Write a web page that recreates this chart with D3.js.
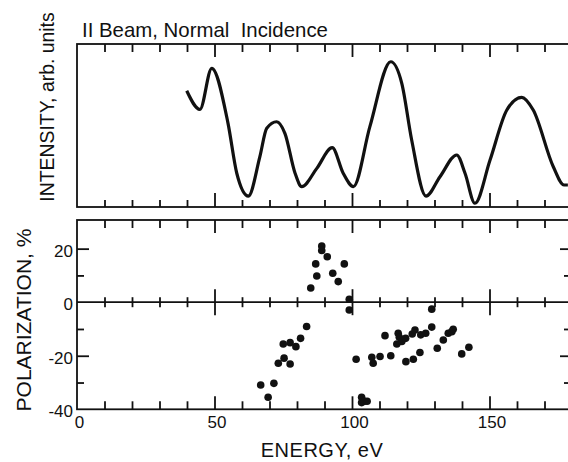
<!DOCTYPE html>
<html>
<head>
<meta charset="utf-8">
<script src="https://cdn.jsdelivr.net/npm/d3@7/dist/d3.min.js"></script>
<style>
  body { margin: 0; background: #fff; }
  text { font-family: "Liberation Sans", Arial, sans-serif; fill: #111; }
</style>
</head>
<body>
<div id="chart"></div>
<script>
////////////////////////////////////////////////////////////////////////
// data

// upper panel: intensity curve (arb. units, 0 = frame bottom, 100 = frame top)
let curveEnergy = [39.9, 44.7, 49.0, 54.9, 58.1, 62.3, 66.5, 69.0, 72.6, 75.6,
                   79.3, 81.7, 87.2, 92.8, 96.8, 100.5, 106.5, 114.1, 118.1, 121.7,
                   126.9, 132.0, 138.1, 141.1, 144.7, 150.2, 156.3, 161.7, 165.9, 173.2,
                   177.1, 178.5];
let curveIntensity = [71.3, 59.9, 85.1, 51.5, 20.7, 6.7, 30.9, 48.3, 52.3, 45.2,
                      20.7, 12.5, 23.7, 36.4, 20.7, 12.5, 49.3, 89.1, 75.9, 41.1,
                      6.7, 18.6, 31.9, 20.7, 2.3, 28.8, 59.5, 67.3, 59.5, 24.7,
                      13.5, 13.5];

// lower panel: polarization points
let polEnergy = [89.0, 89.0, 91.0, 86.8, 97.2, 87.2, 93.0, 95.0, 85.0, 99.0, 99.0,
                 83.5, 81.3, 79.6, 75.0, 77.5, 75.3, 73.2, 77.5, 71.6, 66.8, 69.5,
                 101.5, 103.5, 103.5, 104.5, 105.5,
                 112.0, 107.2, 107.7, 110.2, 114.1, 116.8, 117.2, 116.3, 118.1, 119.5,
                 119.6, 122.3, 121.9, 122.9, 124.7, 125.0, 126.8, 129.0, 129.0, 131.0,
                 133.2, 135.0, 136.3, 136.8, 139.9, 142.5];
let polValue = [21.0, 19.3, 17.0, 14.3, 14.3, 9.8, 10.8, 7.7, 5.3, 1.1, -2.9,
                -9.1, -13.5, -16.6, -15.6, -15.1, -20.9, -22.8, -23.1, -30.3, -30.9, -35.5,
                -21.3, -35.5, -37.5, -37.0, -37.0,
                -12.5, -20.6, -22.8, -20.3, -20.0, -11.6, -13.1, -15.6, -14.7, -13.5,
                -22.2, -21.3, -11.9, -10.4, -18.8, -12.2, -11.6, -9.3, -2.6, -17.2,
                -14.1, -11.6, -11.0, -10.1, -19.3, -16.8];

let energyLabels = [0, 50, 100, 150];
let polLabels = [20, 0, -20, -40];

////////////////////////////////////////////////////////////////////////

let width = 568;
let height = 462;

let svg = d3.select("#chart").append("svg")
  .attr("width", width).attr("height", height);

let left = 77, right = 572;
let topY0 = 44, topY1 = 207;
let botY0 = 220, botY1 = 409.3;

let xScale = d3.scaleLinear().domain([0, 180]).range([left, right]);
let yTop = d3.scaleLinear().domain([0, 100]).range([topY1, topY0]);
let yPol = d3.scaleLinear().domain([-40, 30.7]).range([botY1, botY0]);

let minorE = d3.range(10, 180, 10).filter(d => d % 50 !== 0);
let majorE = [50, 100, 150];
let minorP = [10, -10, -30];
let majorP = [20, -20];

// helper: draw one row of ticks with a d3 axis, no domain path, no labels
function tickRow(axisFn, scale, values, size, tx, ty) {
  let g = svg.append("g")
    .attr("transform", "translate(" + tx + "," + ty + ")")
    .call(axisFn(scale).tickValues(values).tickSize(size).tickFormat(""));
  g.select(".domain").remove();
  g.selectAll("line").attr("stroke", "#111").attr("stroke-width", 1.8);
  return g;
}

// frames
svg.append("rect")
  .attr("x", left).attr("y", topY0)
  .attr("width", right - left).attr("height", topY1 - topY0)
  .attr("fill", "none").attr("stroke", "#111").attr("stroke-width", 1.8);
svg.append("rect")
  .attr("x", left).attr("y", botY0)
  .attr("width", right - left).attr("height", botY1 - botY0)
  .attr("fill", "none").attr("stroke", "#111").attr("stroke-width", 1.8);
svg.append("line")
  .attr("x1", left).attr("x2", right)
  .attr("y1", yPol(0)).attr("y2", yPol(0))
  .attr("stroke", "#111").attr("stroke-width", 1.8);

// energy ticks on every horizontal frame line
tickRow(d3.axisBottom, xScale, minorE, 8, 0, topY0);
tickRow(d3.axisBottom, xScale, majorE, 13, 0, topY0);
tickRow(d3.axisTop, xScale, minorE, 7, 0, topY1);
tickRow(d3.axisTop, xScale, majorE, 14, 0, topY1);
tickRow(d3.axisBottom, xScale, minorE, 8, 0, botY0);
tickRow(d3.axisBottom, xScale, majorE, 13, 0, botY0);
tickRow(d3.axisTop, xScale, minorE, 5, 0, yPol(0));
tickRow(d3.axisBottom, xScale, minorE, 5, 0, yPol(0));
tickRow(d3.axisTop, xScale, majorE, 13, 0, yPol(0));
tickRow(d3.axisBottom, xScale, majorE, 13, 0, yPol(0));
tickRow(d3.axisTop, xScale, minorE, 8, 0, botY1);
tickRow(d3.axisTop, xScale, majorE, 13, 0, botY1);

// polarization ticks, left and right
tickRow(d3.axisRight, yPol, minorP, 7, left, 0);
tickRow(d3.axisRight, yPol, majorP, 12, left, 0);
tickRow(d3.axisLeft, yPol, minorP, 8, right, 0);
tickRow(d3.axisLeft, yPol, majorP, 12, right, 0);

// tick labels
let yLab = svg.append("g")
  .attr("transform", "translate(" + (left - 4) + ",2)")
  .call(d3.axisLeft(yPol).tickValues(polLabels).tickSize(0).tickPadding(0)
        .tickFormat(d => d < 0 ? "-" + Math.abs(d) : d));
yLab.select(".domain").remove();
yLab.selectAll("text").attr("font-size", 17)
  .attr("font-family", "Liberation Sans, Arial, sans-serif").attr("fill", "#111");

let xLab = svg.append("g")
  .attr("transform", "translate(2," + botY1 + ")")
  .call(d3.axisBottom(xScale).tickValues(energyLabels).tickSize(0).tickPadding(7));
xLab.select(".domain").remove();
xLab.selectAll("text").attr("font-size", 17)
  .attr("font-family", "Liberation Sans, Arial, sans-serif").attr("fill", "#111");

// intensity curve
let line = d3.line()
  .x((d, i) => xScale(curveEnergy[i]))
  .y((d, i) => yTop(curveIntensity[i]))
  .curve(d3.curveMonotoneX);

svg.append("path")
  .datum(curveEnergy)
  .attr("d", line)
  .attr("fill", "none")
  .attr("stroke", "#111")
  .attr("stroke-width", 3.2)
  .attr("stroke-linejoin", "round");

// polarization dots
svg.append("g")
  .selectAll("circle")
  .data(polEnergy).enter()
  .append("circle")
  .attr("cx", (d, i) => xScale(d))
  .attr("cy", (d, i) => yPol(polValue[i]))
  .attr("r", 3.8)
  .attr("fill", "#111");

// titles
svg.append("text")
  .attr("x", 82).attr("y", 37)
  .attr("font-size", 20.4)
  .attr("xml:space", "preserve")
  .text("II Beam, Normal  Incidence");

svg.append("text")
  .attr("transform", "translate(54,107)rotate(-90)")
  .attr("text-anchor", "middle")
  .attr("font-size", 19.4)
  .text("INTENSITY, arb. units");

svg.append("text")
  .attr("transform", "translate(31,320)rotate(-90)")
  .attr("text-anchor", "middle")
  .attr("font-size", 21)
  .text("POLARIZATION, %");

svg.append("text")
  .attr("x", 322).attr("y", 457)
  .attr("text-anchor", "middle")
  .attr("font-size", 20)
  .attr("letter-spacing", 0.5)
  .text("ENERGY, eV");
</script>
</body>
</html>
